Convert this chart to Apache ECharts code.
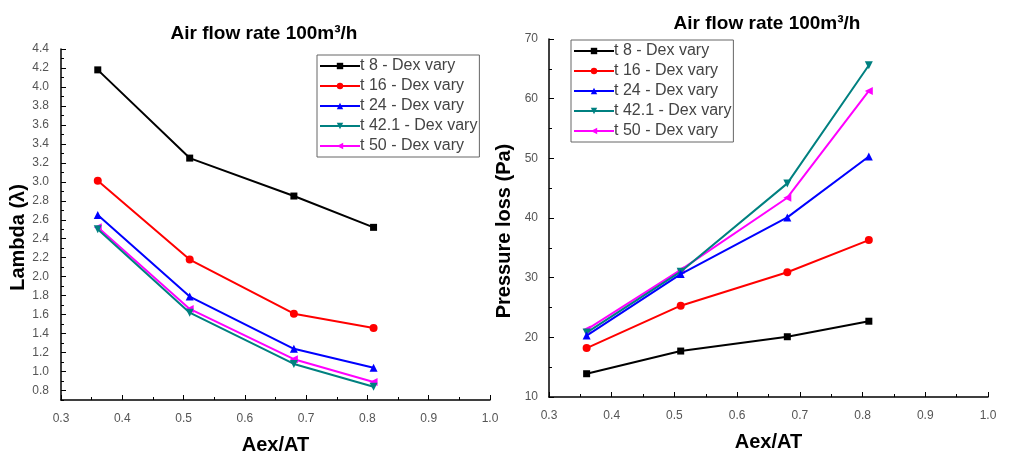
<!DOCTYPE html>
<html><head><meta charset="utf-8">
<script src="https://cdn.jsdelivr.net/npm/echarts@6/dist/echarts.min.js"></script>
<style>html,body{margin:0;padding:0;background:#fff}#c{width:1014px;height:464px}</style>
</head><body><div id="c"></div>
<script>
const xVals = [0.36, 0.51, 0.68, 0.81];
const seriesNames = ['t 8 - Dex vary', 't 16 - Dex vary', 't 24 - Dex vary', 't 42.1 - Dex vary', 't 50 - Dex vary'];
const lambdaT8 = [4.18, 3.25, 2.85, 2.52];
const lambdaT16 = [3.01, 2.18, 1.61, 1.46];
const lambdaT24 = [2.65, 1.79, 1.24, 1.04];
const lambdaT421 = [2.50, 1.62, 1.08, 0.84];
const lambdaT50 = [2.52, 1.66, 1.13, 0.89];
const pressT8 = [13.9, 17.7, 20.1, 22.7];
const pressT16 = [18.2, 25.3, 30.9, 36.3];
const pressT24 = [20.3, 30.6, 40.1, 50.3];
const pressT421 = [20.8, 31.0, 45.8, 65.6];
const pressT50 = [21.3, 31.3, 43.4, 61.3];
const lambdaTickLabels = [0.8,1.0,1.2,1.4,1.6,1.8,2.0,2.2,2.4,2.6,2.8,3.0,3.2,3.4,3.6,3.8,4.0,4.2,4.4];

const colors = ['#000000', '#ff0000', '#0000ff', '#008080', '#ff00ff'];
const symbols = ['rect', 'circle', 'triangle', 'triangle', 'triangle'];
const rotates = [0, 0, 0, 180, 90];
const lambdaData = [lambdaT8, lambdaT16, lambdaT24, lambdaT421, lambdaT50];
const pressData = [pressT8, pressT16, pressT24, pressT421, pressT50];

const font = 'Liberation Sans, Arial, sans-serif';
const labelStyle = {color: '#555', fontSize: 12, fontFamily: font};
const nameStyle = {color: '#000', fontSize: 20, fontWeight: 'bold', fontFamily: font};

function xAxis(gi) {
  return {
    type: 'value', gridIndex: gi, min: 0.3, max: 1.0, interval: 0.1,
    axisLine: {show: true, onZero: false, lineStyle: {color: '#000', width: 1.5}},
    axisTick: {show: true, inside: true, length: 5, lineStyle: {color: '#000'}},
    minorTick: {show: true, splitNumber: 2, length: 3, lineStyle: {color: '#000'}},
    splitLine: {show: false},
    axisLabel: Object.assign({formatter: v => v.toFixed(1), margin: 13}, labelStyle),
    name: 'Aex/AT', nameLocation: 'middle', nameGap: 35, nameTextStyle: nameStyle
  };
}

function mkSeries(data, xi, yi) {
  return data.map((arr, i) => ({
    name: seriesNames[i], type: 'line', xAxisIndex: xi, yAxisIndex: yi,
    data: xVals.map((x, j) => [x, arr[j]]),
    symbol: symbols[i], symbolSize: i === 0 ? 7 : 8, symbolRotate: rotates[i],
    lineStyle: {color: colors[i], width: 2},
    itemStyle: {color: colors[i]},
    z: 5 - i + 2
  }));
}

const legendBase = {
  orient: 'vertical', itemWidth: 40, itemHeight: 8, itemGap: 4,
  borderColor: '#666', borderWidth: 1, padding: [3, 2, 3, 2],
  textStyle: {color: '#444', fontSize: 16, lineHeight: 16, fontFamily: font, padding: [0, 0, 0, -5]},
  data: seriesNames
};

const chart = echarts.init(document.getElementById('c'));
chart.setOption({
  animation: false,
  title: [
    {text: 'Air flow rate 100m³/h', left: 259, top: 19, textAlign: 'center',
     textStyle: {fontSize: 19, fontWeight: 'bold', color: '#000', fontFamily: font}},
    {text: 'Air flow rate 100m³/h', left: 762, top: 9, textAlign: 'center',
     textStyle: {fontSize: 19, fontWeight: 'bold', color: '#000', fontFamily: font}}
  ],
  legend: [
    Object.assign({left: 317, top: 55}, legendBase),
    Object.assign({left: 571, top: 40}, legendBase)
  ],
  grid: [
    {left: 61, right: 524, top: 49, bottom: 64},
    {left: 549, right: 26, top: 39, bottom: 67}
  ],
  xAxis: [xAxis(0), xAxis(1)],
  yAxis: [
    {type: 'value', gridIndex: 0, min: 0.7, max: 4.4, position: 'left',
     axisLine: {show: true, lineStyle: {color: '#000', width: 1.5}},
     axisTick: {show: true, inside: true, length: 5, customValues: lambdaTickLabels, lineStyle: {color: '#000'}},
     splitLine: {show: false},
     axisLabel: Object.assign({customValues: lambdaTickLabels, formatter: v => v.toFixed(1), margin: 12}, labelStyle),
     name: 'Lambda (λ)', nameLocation: 'middle', nameGap: 33,
     nameTextStyle: Object.assign({padding: [0, 26, 0, 0]}, nameStyle)},
    {type: 'value', gridIndex: 1, min: 10, max: 70, interval: 10, position: 'left',
     axisLine: {show: true, lineStyle: {color: '#000', width: 1.5}},
     axisTick: {show: true, inside: true, length: 5, lineStyle: {color: '#000'}},
     minorTick: {show: true, splitNumber: 2, length: 3, lineStyle: {color: '#000'}},
     splitLine: {show: false},
     axisLabel: Object.assign({margin: 11}, labelStyle),
     name: 'Pressure loss (Pa)', nameLocation: 'middle', nameGap: 35,
     nameTextStyle: Object.assign({padding: [0, 26, 0, 0]}, nameStyle)},
    {type: 'value', gridIndex: 0, min: 0.7, max: 4.4, interval: 0.1, position: 'left', offset: 0,
     axisLine: {show: false}, axisLabel: {show: false}, splitLine: {show: false},
     axisTick: {show: true, inside: true, length: 3, lineStyle: {color: '#000'}}}
  ],
  series: mkSeries(lambdaData, 0, 0).concat(mkSeries(pressData, 1, 1))
});
</script></body></html>
